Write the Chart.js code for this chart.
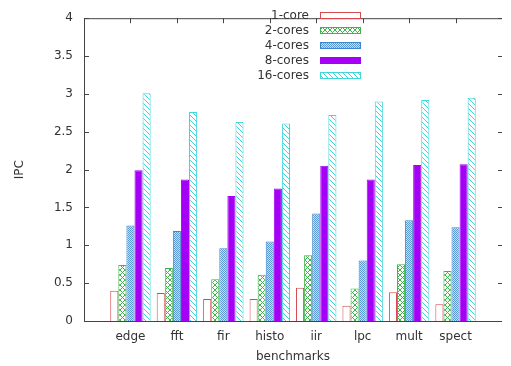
<!DOCTYPE html>
<html>
<head>
<meta charset="utf-8">
<script src="https://cdn.jsdelivr.net/npm/chart.js@4.4.1/dist/chart.umd.min.js"></script>
<style>
  html, body { margin: 0; padding: 0; background: #fff; }
  #wrap { width: 511px; height: 366px; position: relative; }
</style>
</head>
<body>
<div id="wrap"><canvas id="ipcChart"></canvas></div>
<script>
// Benchmarks on the x axis
const categories = ['edge', 'fft', 'fir', 'histo', 'iir', 'lpc', 'mult', 'spect'];

// IPC values per core count
const core1  = [0.40, 0.37, 0.29, 0.29, 0.44, 0.20, 0.38, 0.22];
const cores2 = [0.74, 0.70, 0.55, 0.61, 0.87, 0.43, 0.75, 0.66];
const cores4 = [1.26, 1.19, 0.96, 1.05, 1.42, 0.80, 1.33, 1.24];
const cores8 = [1.99, 1.87, 1.65, 1.75, 2.05, 1.87, 2.06, 2.07];
const cores16 = [3.01, 2.76, 2.63, 2.61, 2.72, 2.90, 2.92, 2.95];

const seriesNames = ['1-core', '2-cores', '4-cores', '8-cores', '16-cores'];
const yTicks = [0, 0.5, 1, 1.5, 2, 2.5, 3, 3.5, 4];

document.addEventListener('DOMContentLoaded', () => {
    // small helper to build a repeating fill pattern
    function makePattern(w, h, draw) {
        const c = document.createElement('canvas');
        c.width = w; c.height = h;
        const g = c.getContext('2d');
        g.fillStyle = '#fff';
        g.fillRect(0, 0, w, h);
        draw(g);
        return g.createPattern(c, 'repeat');
    }

    const red = '#d9474f', green = '#3db54a', blue = '#3d86cc', purple = '#a400f5', cyan = '#3fd6dc';

    // crosshatch for 2-cores
    const crossPat = makePattern(5, 5, g => {
        g.fillStyle = green;
        for (let i = 0; i < 5; i++) {
            g.fillRect(i, i, 1, 1);
            g.fillRect(4 - i, i, 1, 1);
        }
    });
    // fine checker for 4-cores
    const dotPat = makePattern(2, 2, g => {
        g.fillStyle = '#5a98d4';
        g.fillRect(0, 0, 1, 1);
        g.fillRect(1, 1, 1, 1);
        g.fillStyle = '#c8def3';
        g.fillRect(1, 0, 1, 1);
        g.fillRect(0, 1, 1, 1);
    });
    // diagonal stripes for 16-cores
    const stripePat = makePattern(5, 5, g => {
        g.fillStyle = cyan;
        for (let i = 0; i < 5; i++) g.fillRect(i, i, 1, 1);
    });

    // one empty slot each side, like the gnuplot histogram
    const labels = [''].concat(categories, ['']);
    const pad = arr => [null].concat(arr, [null]);

    const fills = ['#ffffff', crossPat, dotPat, purple, stripePat];
    const borders = [red, green, blue, purple, cyan];
    const values = [core1, cores2, cores4, cores8, cores16];

    const datasets = seriesNames.map((name, i) => ({
        label: name,
        data: pad(values[i]),
        backgroundColor: fills[i],
        borderColor: borders[i],
        borderWidth: 1,
        categoryPercentage: 0.87,
        barPercentage: 1.0
    }));

    const txt = '#333';
    const font = { family: 'DejaVu Sans', size: 12 };

    // frame, inward ticks and the in-plot key
    const framePlugin = {
        id: 'frame',
        afterDatasetsDraw(chart) {
            const { ctx, chartArea: a, scales } = chart;
            ctx.save();
            ctx.strokeStyle = '#444';
            ctx.lineWidth = 1;
            ctx.beginPath();
            ctx.moveTo(a.right, a.top + 0.5);
            ctx.lineTo(a.left + 0.5, a.top + 0.5);
            ctx.lineTo(a.left + 0.5, a.bottom + 0.5);
            ctx.lineTo(a.right, a.bottom + 0.5);
            // y ticks, both sides
            yTicks.forEach(v => {
                const y = Math.round(scales.y.getPixelForValue(v)) + 0.5;
                ctx.moveTo(a.left, y); ctx.lineTo(a.left + 5, y);
                ctx.moveTo(a.right, y); ctx.lineTo(a.right - 4, y);
            });
            // x ticks on the top edge
            categories.forEach((c, i) => {
                const x = Math.round(scales.x.getPixelForValue(i + 1)) + 0.5;
                ctx.moveTo(x, a.top); ctx.lineTo(x, a.top + 5);
            });
            ctx.stroke();

            // key: text right-aligned, sample box to the right
            ctx.font = '12px "DejaVu Sans"';
            ctx.textAlign = 'right';
            ctx.textBaseline = 'middle';
            datasets.forEach((ds, i) => {
                const y = 15.5 + i * 15;
                ctx.fillStyle = txt;
                ctx.fillText(ds.label, 309, y);
                ctx.fillStyle = ds.backgroundColor;
                ctx.fillRect(320, y - 3.5, 41, 7);
                ctx.strokeStyle = ds.borderColor;
                ctx.strokeRect(320.5, y - 3, 40, 6);
            });
            ctx.restore();
        }
    };

    const ctx = document.getElementById('ipcChart').getContext('2d');
    new Chart(ctx, {
        type: 'bar',
        data: { labels: labels, datasets: datasets },
        options: {
            responsive: true,
            maintainAspectRatio: false,
            animation: false,
            layout: { padding: { left: 0, right: 2, top: 9, bottom: 0 } },
            plugins: {
                legend: { display: false },
                tooltip: { enabled: false }
            },
            scales: {
                x: {
                    type: 'category',
                    offset: false,
                    grid: { display: false, drawTicks: false },
                    border: { display: false },
                    ticks: { color: txt, font: font, padding: 9, maxRotation: 0, autoSkip: false },
                    title: { display: true, text: 'benchmarks', color: txt, font: font, padding: { top: 4, bottom: 2 } },
                    afterFit: scale => { scale.height = 45; }
                },
                y: {
                    min: 0,
                    max: 4,
                    grid: { display: false, drawTicks: false },
                    border: { display: false },
                    ticks: { stepSize: 0.5, color: txt, font: font, padding: 11,
                        callback: v => String(+v.toFixed(1)) },
                    title: { display: true, text: 'IPC', color: txt, font: font, padding: { top: 12.8, bottom: 4 } },
                    afterFit: scale => { scale.width = 84; }
                }
            }
        },
        plugins: [framePlugin]
    });
});
</script>
</body>
</html>
